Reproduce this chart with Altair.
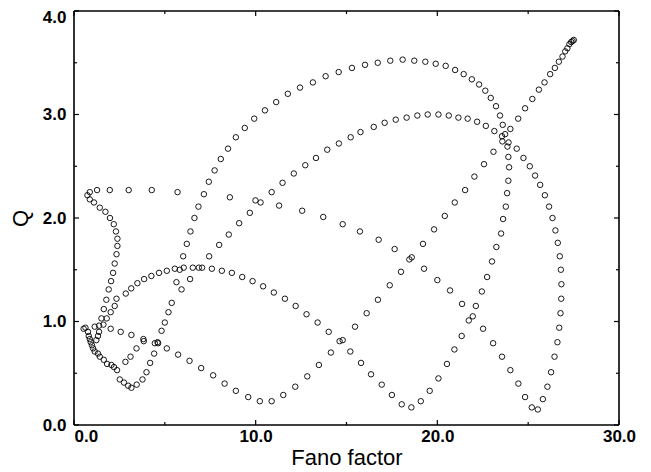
import altair as alt
import pandas as pd

# Outer arc (peak ~3.5) and its descent to the V near 18.6
outer_x = [8.48, 8.91, 9.40, 9.92, 10.51, 11.13, 11.77, 12.44, 13.15, 13.85, 14.57, 15.30,
           16.02, 16.72, 17.41, 18.09, 18.73, 19.34, 19.91, 20.46, 20.98, 21.45, 21.90, 22.30,
           22.64, 22.94, 23.23, 23.45, 23.60, 23.73, 23.86, 23.91, 23.95, 23.91, 23.84, 23.77,
           23.62, 23.51, 23.25, 23.01, 22.74, 22.45, 22.12, 21.73, 21.34, 20.94, 20.53, 20.06,
           19.58, 19.09, 18.57, 18.04, 17.50, 16.94, 16.35, 15.80, 15.21, 14.62, 14.02, 13.41,
           12.80, 12.20, 11.61, 11.00, 10.41, 9.83, 9.26, 8.69, 8.14, 7.59,
           8.08, 7.74, 7.42, 7.15, 6.85, 6.63, 6.41, 6.21, 6.01]
outer_q = [2.67, 2.78, 2.87, 2.96, 3.04, 3.12, 3.20, 3.26, 3.31, 3.37, 3.41, 3.45,
           3.48, 3.50, 3.52, 3.53, 3.52, 3.51, 3.49, 3.47, 3.43, 3.39, 3.34, 3.29,
           3.23, 3.16, 3.08, 2.99, 2.90, 2.81, 2.69, 2.59, 2.49, 2.36, 2.24, 2.11,
           1.99, 1.85, 1.72, 1.58, 1.43, 1.29, 1.15, 1.01, 0.86, 0.73, 0.59, 0.45,
           0.33, 0.23, 0.17, 0.20, 0.29, 0.39, 0.49, 0.60, 0.71, 0.81, 0.90, 0.99,
           1.07, 1.15, 1.22, 1.28, 1.34, 1.39, 1.43, 1.47, 1.49, 1.51,
           2.57, 2.46, 2.35, 2.23, 2.11, 2.00, 1.87, 1.75, 1.63]

# Inner arc (peak ~3.0), V near 25.4 and the long descending line
inner_x = [7.44, 7.99, 8.52, 9.09, 9.68, 10.27, 10.88, 11.48, 12.10, 12.73, 13.32, 13.94, 14.58,
           15.23, 15.77, 16.50, 17.10, 17.71, 18.31, 18.90, 19.47, 20.06, 20.63, 21.16, 21.67,
           22.19, 22.67, 23.14, 23.56, 23.92, 24.37, 24.74, 25.09, 25.38, 25.66, 25.92, 26.15,
           26.34, 26.50, 26.63, 26.74, 26.80, 26.83, 26.82, 26.78, 26.71, 26.61, 26.45, 26.26,
           26.06, 25.81, 25.53, 25.20, 24.83, 24.46, 24.02, 23.56, 23.07, 22.52, 21.95, 21.36,
           20.70, 20.00, 19.27, 18.46, 17.65, 16.77, 15.74, 14.79, 13.72, 12.56, 11.29, 9.99, 8.58]
inner_q = [1.63, 1.74, 1.84, 1.95, 2.05, 2.15, 2.25, 2.34, 2.43, 2.51, 2.58, 2.66, 2.72,
           2.78, 2.83, 2.88, 2.92, 2.95, 2.97, 2.99, 3.00, 3.00, 2.99, 2.97, 2.96,
           2.93, 2.89, 2.84, 2.79, 2.73, 2.67, 2.58, 2.50, 2.41, 2.32, 2.22, 2.11,
           2.00, 1.88, 1.76, 1.63, 1.50, 1.36, 1.22, 1.08, 0.94, 0.80, 0.66, 0.51,
           0.37, 0.25, 0.15, 0.17, 0.27, 0.40, 0.53, 0.66, 0.79, 0.93, 1.05, 1.17,
           1.30, 1.40, 1.51, 1.60, 1.70, 1.79, 1.87, 1.94, 2.01, 2.07, 2.12, 2.17, 2.20]

# Line through the V near 10.2 rising to the top-right corner
rise_x = [2.02, 2.57, 3.16, 3.82, 3.84, 4.45, 4.63, 5.11, 5.73, 6.36, 7.00,
          7.66, 8.29, 8.91, 9.59, 10.23, 10.88, 11.52, 12.18, 12.84, 13.48, 14.14, 14.79,
          15.47, 16.11, 16.73, 17.38, 18.00, 18.59, 19.21, 19.82, 20.41, 20.96, 21.53, 22.04,
          22.57, 23.09, 23.58, 24.02, 24.45, 24.83, 25.23, 25.59, 25.90, 26.21, 26.47, 26.69,
          26.89, 27.04, 27.16, 27.27, 27.37, 27.44, 27.51]
rise_q = [0.93, 0.90, 0.87, 0.83, 0.81, 0.79, 0.79, 0.74, 0.68, 0.62, 0.55,
          0.48, 0.40, 0.33, 0.27, 0.23, 0.23, 0.29, 0.37, 0.47, 0.58, 0.70, 0.82,
          0.95, 1.08, 1.21, 1.35, 1.48, 1.62, 1.75, 1.89, 2.02, 2.15, 2.27, 2.40,
          2.52, 2.64, 2.74, 2.86, 2.96, 3.06, 3.15, 3.24, 3.31, 3.39, 3.45, 3.51,
          3.56, 3.61, 3.64, 3.68, 3.70, 3.71, 3.72]

# Hook at upper left (row at Q~2.26 and its turn down)
hook_x = [5.70, 4.28, 3.01, 1.97, 1.27, 0.87, 0.74, 0.87, 1.10, 1.42, 1.73, 1.98, 2.19,
          2.31, 2.39, 2.39, 2.34, 2.24, 2.15, 2.04, 1.91, 1.78, 1.64, 1.51, 1.38,
          1.14, 0.63, 0.53]
hook_q = [2.25, 2.27, 2.27, 2.27, 2.27, 2.25, 2.22, 2.18, 2.15, 2.10, 2.06, 2.00, 1.94,
          1.87, 1.80, 1.73, 1.65, 1.56, 1.47, 1.39, 1.31, 1.21, 1.12, 1.03, 0.96,
          0.95, 0.94, 0.93]

# Hump near Q~1.5 and dense lower-left cluster
low_x = [1.62, 1.80, 2.02, 2.24, 2.34, 2.85, 3.15, 3.49, 3.86, 4.26, 4.68, 5.11, 5.55,
         5.82, 6.04, 6.54, 6.87, 7.05, 6.39, 5.92, 5.64, 5.38, 5.20, 5.00, 4.82, 4.60,
         4.41, 4.19, 3.99, 3.77, 3.45, 3.16, 2.98, 2.75, 2.52, 2.37, 2.20, 2.06, 1.82,
         1.64, 1.42, 1.32, 3.44, 3.11, 2.83,
         0.77, 0.81, 0.87, 0.92, 0.99, 1.05, 1.14, 1.23, 1.32, 1.38]
low_q = [0.97, 1.03, 1.09, 1.15, 1.22, 1.27, 1.32, 1.37, 1.41, 1.44, 1.47, 1.49, 1.51,
         1.50, 1.52, 1.52, 1.52, 1.52, 1.41, 1.31, 1.38, 1.18, 1.09, 0.99, 0.91, 0.80,
         0.69, 0.60, 0.51, 0.44, 0.39, 0.36, 0.38, 0.41, 0.44, 0.53, 0.56, 0.58, 0.59,
         0.63, 0.66, 0.69, 0.74, 0.66, 0.61,
         0.90, 0.86, 0.83, 0.80, 0.77, 0.74, 0.71, 0.82, 0.86, 0.90]

x_major = [0, 10, 20, 30]
x_minor = [5, 15, 25]
y_major = [0, 1, 2, 3, 4]
y_minor = [0.5, 1.5, 2.5, 3.5]

fano = outer_x + inner_x + rise_x + hook_x + low_x
q = outer_q + inner_q + rise_q + hook_q + low_q
df = pd.DataFrame({"fano": fano, "q": q})

W, H = 545, 414
FONT = "Liberation Sans"
xs = alt.Scale(domain=[0, 30], nice=False, zero=False)
ys = alt.Scale(domain=[0, 4], nice=False, zero=False)

points = alt.Chart(df).mark_point(
    shape="circle", filled=False, size=30, color="black", strokeWidth=0.9, opacity=1
).encode(
    x=alt.X("fano:Q", scale=xs, axis=alt.Axis(
        title="Fano factor", values=x_major, format=".1f", ticks=False, domain=False,
        grid=False, labelFlush=False,
        labelAlign={"condition": {"test": "datum.value == 0", "value": "left"}, "value": "center"},
        labelFont=FONT, labelFontSize=17, labelFontWeight="bold",
        labelColor="black", labelPadding=3, titleFont=FONT, titleFontSize=22,
        titleFontWeight="normal", titleColor="black", titlePadding=3)),
    y=alt.Y("q:Q", scale=ys, axis=alt.Axis(
        title="Q", values=y_major, format=".1f", ticks=False, domain=False,
        grid=False, labelFlush=False,
        labelOffset={"condition": {"test": "datum.value == 4", "value": 6}, "value": 0},
        labelFont=FONT, labelFontSize=17,
        labelFontWeight="bold", labelColor="black", labelPadding=8, titleFont=FONT,
        titleFontSize=22, titleFontWeight="normal", titleColor="black", titlePadding=10)),
)

def xticks(vals, length):
    d = pd.DataFrame({"fano": vals})
    base = alt.Chart(d).mark_rule(color="black", strokeWidth=1.2)
    bottom = base.encode(x=alt.X("fano:Q", scale=xs),
                         y=alt.value(H), y2=alt.value(H - length))
    top = base.encode(x=alt.X("fano:Q", scale=xs),
                      y=alt.value(0), y2=alt.value(length))
    return [bottom, top]

def yticks(vals, length):
    d = pd.DataFrame({"q": vals})
    base = alt.Chart(d).mark_rule(color="black", strokeWidth=1.2)
    left = base.encode(y=alt.Y("q:Q", scale=ys),
                       x=alt.value(0), x2=alt.value(length))
    right = base.encode(y=alt.Y("q:Q", scale=ys),
                        x=alt.value(W), x2=alt.value(W - length))
    return [left, right]

# plot frame (box around the data rectangle)
frame_base = alt.Chart(pd.DataFrame({"k": [0]})).mark_rule(color="black", strokeWidth=1.6)
frame = [
    frame_base.encode(x=alt.value(0), x2=alt.value(W), y=alt.value(0)),
    frame_base.encode(x=alt.value(0), x2=alt.value(W), y=alt.value(H)),
    frame_base.encode(y=alt.value(0), y2=alt.value(H), x=alt.value(0)),
    frame_base.encode(y=alt.value(0), y2=alt.value(H), x=alt.value(W)),
]

layers = ([points] + xticks(x_major, 5) + xticks(x_minor, 3)
          + yticks(y_major, 5) + yticks(y_minor, 3) + frame)

chart = alt.layer(*layers).properties(
    width=W, height=H,
    padding={"left": 66, "top": 3, "right": 20, "bottom": 46},
    autosize=alt.AutoSizeParams(type="none"),
    background="white",
).configure_view(stroke=None)

chart.save("out.html", embed_options={"renderer": "svg", "actions": False})
